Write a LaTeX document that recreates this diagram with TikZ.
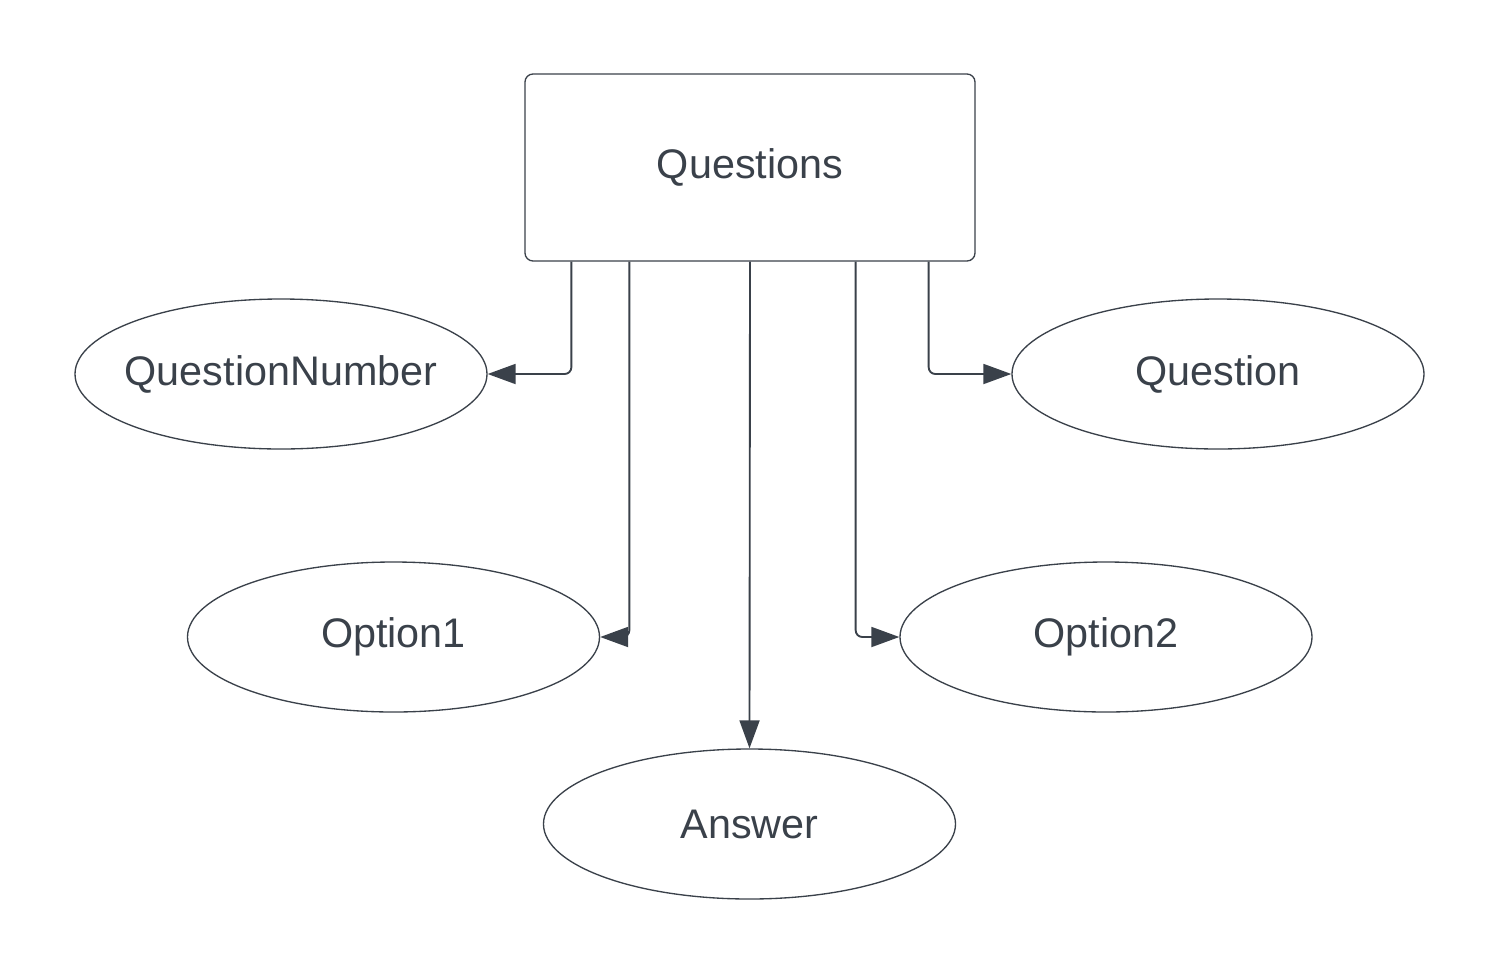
\documentclass[tikz,border=0pt]{standalone}
\usepackage{fontspec}
\setmainfont{Liberation Sans}
\usetikzlibrary{shapes.geometric,arrows.meta,calc}
\definecolor{lucidgray}{RGB}{58,65,74}
\newcommand{\lbl}[1]{\makebox[0pt]{#1}}
\tikzset{
  entity/.style={draw=lucidgray,line width=1pt,rounded corners=6pt,minimum width=337.5pt,minimum height=140.25pt,text=lucidgray,font=\fontsize{31}{37}\selectfont},
  attrib/.style={draw=lucidgray,line width=1pt,ellipse,inner sep=0pt,minimum width=309pt,minimum height=112.5pt,text=lucidgray,font=\fontsize{31}{37}\selectfont},
  link/.style={draw=lucidgray,line width=1.4pt,rounded corners=5pt,-{Triangle[length=21pt,width=15pt]}}
}
\begin{document}
\begin{tikzpicture}[x=0.75pt,y=0.75pt,yscale=-1,xscale=1]
\useasboundingbox (0,0) rectangle (1500,975);

%Shape: Rectangle
\node[entity] (qs) at (750,167.5) {Questions};

%Shape: Ellipse
\node[attrib] (qn) at (281,374) {\lbl{QuestionNumber}};
%Shape: Ellipse
\node[attrib] (qt) at (1218,374) {\lbl{Question}};
%Shape: Ellipse
\node[attrib] (o1) at (393.5,637) {\lbl{Option1}};
%Shape: Ellipse
\node[attrib] (o2) at (1106,637) {\lbl{Option2}};
%Shape: Ellipse
\node[attrib] (an) at (749.5,824) {\lbl{Answer}};

%Connectors
\draw[link] ($(qs.south west)+(47,0)$) |- (qn.east);
\draw[link] ($(qs.south west)+(105,0)$) |- (o1.east);
\draw[link] (qs.south) -- (an.north);
\draw[link] ($(qs.south east)+(-120,0)$) |- (o2.west);
\draw[link] ($(qs.south east)+(-47,0)$) |- (qt.west);

\end{tikzpicture}
\end{document}
